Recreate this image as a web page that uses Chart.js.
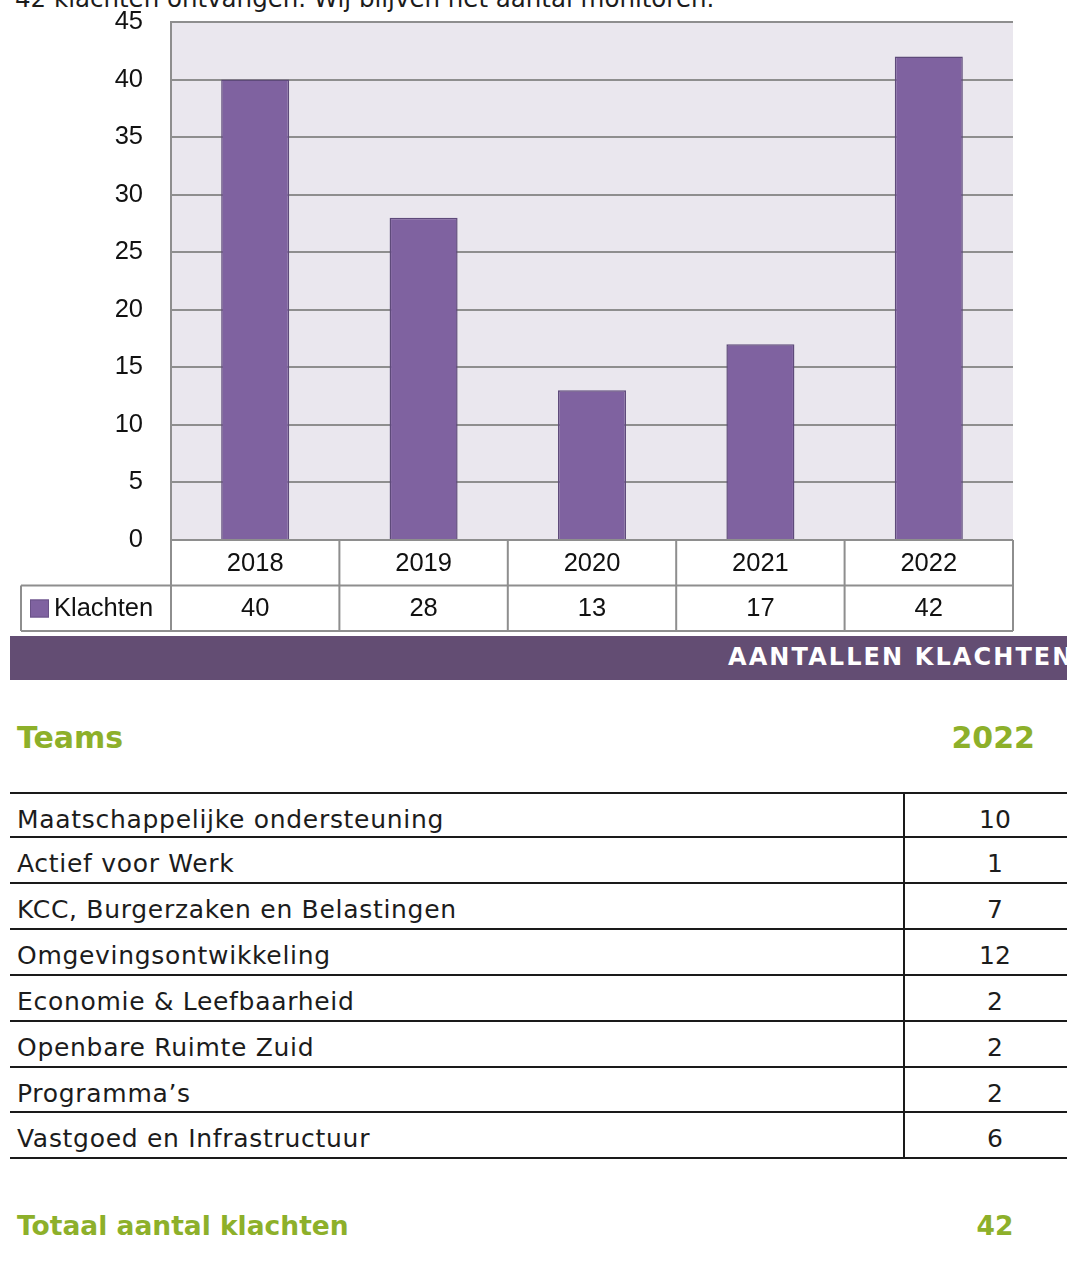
<!DOCTYPE html>
<html>
<head>
<meta charset="utf-8">
<script src="https://cdn.jsdelivr.net/npm/chart.js@4"></script>
<style>
  html, body { margin: 0; padding: 0; background: #fff; width: 1067px; height: 1286px; overflow: hidden; position: relative; }
  .abs { position: absolute; white-space: nowrap; line-height: 1; }
  .dv { font-family: "DejaVu Sans", Verdana, sans-serif; color: #1c1c1c; }
  .green { color: #8DB02A; font-weight: bold; }
  .hl { position: absolute; left: 10px; width: 1057px; height: 0; border-top: 2px solid #1a1a1a; }
  #chartWrap { position: absolute; left: 0; top: 0; width: 1067px; height: 636px; }
</style>
</head>
<body>
<div class="abs dv" style="left:15px; top:-13px; font-size:24.5px;">42 klachten ontvangen. Wij blijven het aantal monitoren.</div>

<div id="chartWrap"><canvas id="c" width="1067" height="636"></canvas></div>

<div style="position:absolute; left:10px; top:636px; width:1057px; height:44px; background:#634D73; overflow:hidden;"></div>
<div class="abs dv" style="left:728px; top:644.5px; font-size:24px; font-weight:bold; color:#fff; letter-spacing:2.1px;">AANTALLEN KLACHTEN</div>

<div id="teamsBlock"></div>

<script>
// ---- Chart data ----
const years = ['2018', '2019', '2020', '2021', '2022'];
const klachten = [40, 28, 13, 17, 42];
const seriesLabel = 'Klachten';
const yTicks = [0, 5, 10, 15, 20, 25, 30, 35, 40, 45];

// ---- Team table data ----
const teamsHeader = 'Teams';
const yearHeader = '2022';
const teams = [
  'Maatschappelijke ondersteuning',
  'Actief voor Werk',
  'KCC, Burgerzaken en Belastingen',
  'Omgevingsontwikkeling',
  'Economie & Leefbaarheid',
  'Openbare Ruimte Zuid',
  'Programma\u2019s',
  'Vastgoed en Infrastructuur'
];
const teamCounts = [10, 1, 7, 12, 2, 2, 2, 6];
const totalLabel = 'Totaal aantal klachten';
const totalValue = 42;

const BAR = '#7F62A0';
const CHART_FONT = '"Liberation Sans", Arial, sans-serif';

const bgPlugin = {
  id: 'plotBg',
  beforeDraw(chart) {
    const a = chart.chartArea, ctx = chart.ctx;
    ctx.save();
    ctx.fillStyle = '#EAE7EE';
    ctx.fillRect(a.left, a.top, a.right - a.left, a.bottom - a.top);
    ctx.restore();
  }
};

const tablePlugin = {
  id: 'dataTable',
  afterDraw(chart) {
    const ctx = chart.ctx, x = chart.scales.x, a = chart.chartArea;
    const n = years.length;
    const cw = (x.right - x.left) / n;
    const rowH = 45.5;
    const y0 = a.bottom, y1 = y0 + rowH, y2 = y1 + rowH;
    const legendLeft = 21;
    ctx.save();
    ctx.strokeStyle = '#8E8E8E';
    ctx.lineWidth = 2;
    ctx.beginPath();
    ctx.moveTo(x.left, y0); ctx.lineTo(x.right, y0);
    ctx.moveTo(legendLeft, y1); ctx.lineTo(x.right, y1);
    ctx.moveTo(legendLeft, y2); ctx.lineTo(x.right, y2);
    for (let i = 0; i <= n; i++) {
      const xx = x.left + i * cw;
      ctx.moveTo(xx, y0); ctx.lineTo(xx, y2);
    }
    ctx.moveTo(legendLeft, y1); ctx.lineTo(legendLeft, y2);
    ctx.stroke();

    ctx.fillStyle = '#111';
    ctx.font = '25.5px ' + CHART_FONT;
    ctx.textAlign = 'center';
    ctx.textBaseline = 'middle';
    years.forEach((yr, i) => {
      const cx = x.getPixelForValue(i);
      ctx.fillText(yr, cx, y0 + rowH / 2 + 1);
      ctx.fillText(String(klachten[i]), cx, y1 + rowH / 2 + 1);
    });
    // legend swatch
    ctx.fillStyle = BAR;
    ctx.fillRect(30, y1 + 14, 19, 18);
    ctx.strokeStyle = '#6A5288';
    ctx.lineWidth = 1;
    ctx.strokeRect(30.5, y1 + 14.5, 18, 17);
    ctx.fillStyle = '#111';
    ctx.textAlign = 'left';
    ctx.fillText(seriesLabel, 54, y1 + rowH / 2 + 1);
    ctx.restore();
  }
};

new Chart(document.getElementById('c'), {
  type: 'bar',
  data: {
    labels: years,
    datasets: [{
      label: seriesLabel,
      data: klachten,
      backgroundColor: BAR,
      borderColor: '#5E4A7A',
      borderWidth: 1.5,
      categoryPercentage: 1,
      barPercentage: 0.404
    }]
  },
  options: {
    responsive: false,
    animation: false,
    devicePixelRatio: 1,
    layout: { padding: { left: 0, right: 54, top: 22, bottom: 0 } },
    plugins: { legend: { display: false }, tooltip: { enabled: false } },
    scales: {
      x: {
        grid: { display: false },
        border: { display: false },
        ticks: { display: false },
        afterFit(s) { s.height = 96; }
      },
      y: {
        min: 0, max: 45,
        afterFit(s) { s.width = 171; },
        afterBuildTicks(s) { s.ticks = yTicks.map(v => ({ value: v })); },
        ticks: {
          padding: 0,
          color: '#111',
          font: { family: CHART_FONT, size: 25.5 }
        },
        grid: { color: '#8E8E8E', lineWidth: 2, drawTicks: true, tickLength: 28, tickColor: 'rgba(0,0,0,0)' },
        border: { display: true, color: '#8E8E8E', width: 2 }
      }
    }
  },
  plugins: [bgPlugin, tablePlugin]
});

// ---- Teams table (HTML) ----
const block = document.getElementById('teamsBlock');
function addText(txt, style, cls) {
  const d = document.createElement('div');
  d.className = 'abs dv ' + (cls || '');
  d.textContent = txt;
  d.setAttribute('style', style);
  block.appendChild(d);
}
addText(teamsHeader, 'left:17px; top:722.5px; font-size:30px;', 'green');
addText(yearHeader, 'left:834px; width:201px; text-align:right; top:722.5px; font-size:30px;', 'green');

const lineYs = [793, 837.3, 883.3, 929.3, 975, 1020.7, 1066.7, 1112.3, 1157.7];
lineYs.forEach(y => {
  const d = document.createElement('div');
  d.className = 'hl';
  d.style.top = (y - 1) + 'px';
  block.appendChild(d);
});
const v = document.createElement('div');
v.setAttribute('style', 'position:absolute; left:903px; top:792px; width:2px; height:367px; background:#1a1a1a;');
block.appendChild(v);

teams.forEach((t, i) => {
  const top = lineYs[i] + 13.8;
  addText(t, 'left:17px; top:' + top + 'px; font-size:25px; letter-spacing:0.7px;');
  addText(String(teamCounts[i]), 'left:905px; width:180px; text-align:center; top:' + top + 'px; font-size:25px;');
});

addText(totalLabel, 'left:17px; top:1213px; font-size:26.5px;', 'green');
addText(String(totalValue), 'left:905px; width:180px; text-align:center; top:1213px; font-size:26.5px;', 'green');
</script>
</body>
</html>
